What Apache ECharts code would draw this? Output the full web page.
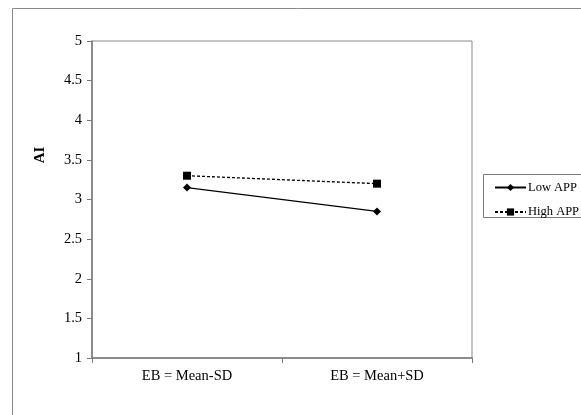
<!DOCTYPE html>
<html>
<head>
<meta charset="utf-8">
<script src="https://cdn.jsdelivr.net/npm/echarts@6/dist/echarts.min.js"></script>
<style>html,body{margin:0;padding:0;background:#fff}#c{width:581px;height:415px}</style>
</head>
<body>
<div id="c"></div>
<script>
const categories = ['EB = Mean-SD', 'EB = Mean+SD'];
const lowAPP = [3.15, 2.85];
const highAPP = [3.3, 3.2];
const seriesNames = ['Low APP', 'High APP'];
const yAxisName = 'AI';

const font = 'Liberation Serif';
const chart = echarts.init(document.getElementById('c'), null, {renderer: 'canvas'});
chart.setOption({
  animation: false,
  backgroundColor: '#fff',
  textStyle: {fontFamily: font},
  graphic: [
    {type: 'rect', shape: {x: 12.5, y: 8.5, width: 600, height: 430}, style: {fill: 'none', stroke: '#8a8a8a', lineWidth: 1}, z: -1},
    {type: 'rect', shape: {x: 483.5, y: 174.5, width: 120, height: 43}, style: {fill: 'none', stroke: '#7a7a7a', lineWidth: 1}, z: -1},
    {type: 'text', x: 40, y: 155, rotation: Math.PI / 2, style: {text: yAxisName, fontFamily: font, fontWeight: 'bold', fontSize: 15, fill: '#000', align: 'center', verticalAlign: 'middle'}}
  ],
  grid: {left: 92, top: 41, width: 380, height: 317, show: true, borderColor: '#8a8a8a', borderWidth: 1, backgroundColor: 'transparent'},
  legend: {
    orient: 'vertical', left: 494, top: 181,
    data: seriesNames,
    itemWidth: 31, itemHeight: 9, itemGap: 11.5,
    padding: 0,
    textStyle: {fontFamily: font, fontSize: 12.5, color: '#000', padding: [0, 0, 0, -3]}
  },
  xAxis: {
    type: 'category', data: categories, boundaryGap: true,
    axisLine: {lineStyle: {color: '#7a7a7a', width: 1.5}},
    axisTick: {show: true, length: 5, lineStyle: {color: '#7a7a7a'}},
    axisLabel: {fontFamily: font, fontSize: 14.5, color: '#000', margin: 11},
    splitLine: {show: false}
  },
  yAxis: {
    type: 'value', min: 1, max: 5, interval: 0.5,
    axisLine: {show: true, lineStyle: {color: '#7a7a7a', width: 1.5}},
    axisTick: {show: true, length: 5, lineStyle: {color: '#7a7a7a'}},
    axisLabel: {fontFamily: font, fontSize: 14.5, color: '#000', margin: 10},
    splitLine: {show: false}
  },
  series: [
    {name: seriesNames[0], type: 'line', data: lowAPP, symbol: 'diamond', symbolSize: 8,
     lineStyle: {color: '#000', width: 1.3, type: 'solid'}, itemStyle: {color: '#000'}},
    {name: seriesNames[1], type: 'line', data: highAPP, symbol: 'rect', symbolSize: 8,
     lineStyle: {color: '#000', width: 1.3, type: [3, 2]}, itemStyle: {color: '#000'}}
  ]
});
</script>
</body>
</html>
